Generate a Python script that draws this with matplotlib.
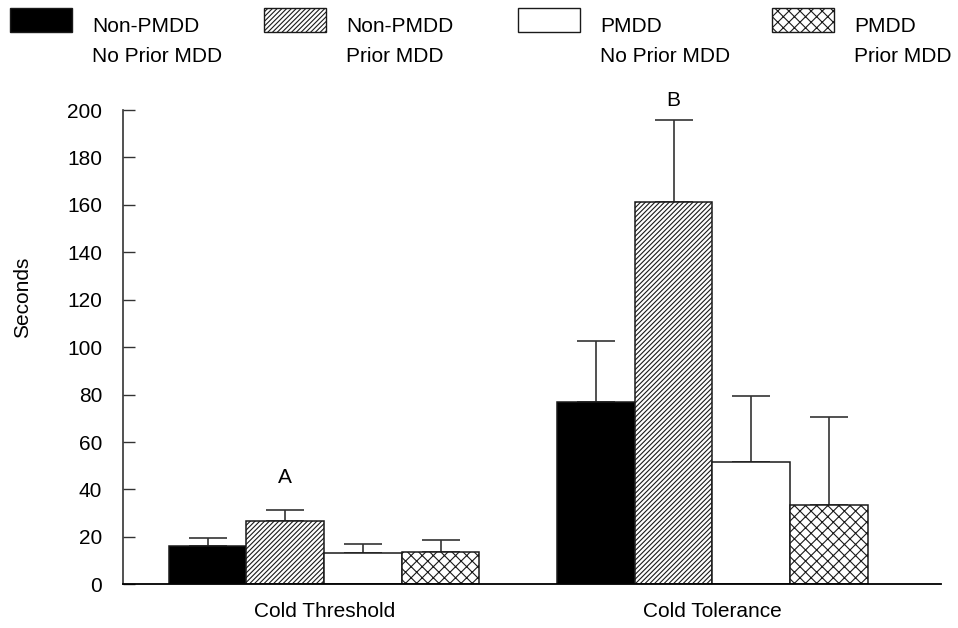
"""Cold pain threshold and tolerance by PMDD / prior MDD group."""
import matplotlib
matplotlib.use("Agg")
import matplotlib.pyplot as plt
from matplotlib.patches import Rectangle
import numpy as np

CATEGORIES = ["Cold Threshold", "Cold Tolerance"]
GROUP_LABELS = ["Non-PMDD\nNo Prior MDD", "Non-PMDD\nPrior MDD", "PMDD\nNo Prior MDD", "PMDD\nPrior MDD"]

# mean seconds per category, one list per group
non_pmdd_no_prior = [16.3, 77.0]
non_pmdd_prior = [26.7, 161.4]
pmdd_no_prior = [13.3, 51.7]
pmdd_prior = [13.6, 33.5]

# upper error (SEM) per category
non_pmdd_no_prior_err = [3.4, 25.4]
non_pmdd_prior_err = [4.6, 34.5]
pmdd_no_prior_err = [3.7, 27.5]
pmdd_prior_err = [5.1, 37.2]

SIG_LABELS = ["A", "B"]
SIG_Y = [45, 204]

YTICKS = list(range(0, 201, 20))

means = [non_pmdd_no_prior, non_pmdd_prior, pmdd_no_prior, pmdd_prior]
errors = [non_pmdd_no_prior_err, non_pmdd_prior_err, pmdd_no_prior_err, pmdd_prior_err]
styles = [dict(color="black", hatch=None), dict(color="white", hatch="///////"),
          dict(color="white", hatch=None), dict(color="white", hatch="xxx")]

plt.rcParams["font.family"] = ["Liberation Sans", "DejaVu Sans"]
plt.rcParams["font.size"] = 15
plt.rcParams["hatch.linewidth"] = 0.8
plt.rcParams["hatch.color"] = "#111111"

fig = plt.figure(figsize=(9.58, 6.28), dpi=100)
ax = fig.add_axes([0.1284, 0.0696, 0.8536, 0.7552])

n_groups = len(means)
centers = np.arange(len(CATEGORIES)) * (n_groups + 1) + (n_groups - 1) / 2
for i, (vals, errs, st) in enumerate(zip(means, errors, styles)):
    x = centers - (n_groups - 1) / 2 + i
    ax.bar(x, vals, width=1.0, color=st["color"], hatch=st["hatch"], edgecolor="#1a1a1a", linewidth=1.1, zorder=2)
    ax.errorbar(x, vals, yerr=[np.zeros(len(errs)), errs], fmt="none", ecolor="#333333",
                elinewidth=1.2, capsize=14, capthick=1.2, zorder=1)

for ci, (lab, yv) in enumerate(zip(SIG_LABELS, SIG_Y)):
    ax.text(centers[ci] - (n_groups - 1) / 2 + 1, yv, lab, ha="center", va="center", clip_on=False)

ax.set_ylim(0, 200)
ax.set_xlim(-1.09, centers[-1] + 2.94)
ax.set_yticks(YTICKS)
ax.set_xticks(centers)
ax.set_xticklabels(CATEGORIES)
ax.tick_params(axis="x", length=0, pad=13)
ax.tick_params(axis="y", direction="in", length=8.5, width=1.0, color="#333333", pad=15)
ax.set_ylabel("Seconds")
ax.yaxis.set_label_coords(-0.111, 0.606)
for side in ("top", "right"):
    ax.spines[side].set_visible(False)
ax.spines["left"].set_color("#333333")
ax.spines["left"].set_linewidth(1.2)
ax.spines["bottom"].set_linewidth(1.3)

# legend across the top, evenly spaced
W, H = 958, 628
for i, (label, st) in enumerate(zip(GROUP_LABELS, styles)):
    x0 = 10 + i * 254
    fig.add_artist(Rectangle((x0 / W, 1 - 32 / H), 62 / W, 24 / H, transform=fig.transFigure,
                             facecolor=st["color"], hatch=st["hatch"], edgecolor="#1a1a1a", linewidth=1.0))
    line1, line2 = label.split("\n")
    fig.text((x0 + 82) / W, 1 - 26 / H, line1, va="center", ha="left")
    fig.text((x0 + 82) / W, 1 - 56 / H, line2, va="center", ha="left")

fig.savefig("out.png", dpi=100)
